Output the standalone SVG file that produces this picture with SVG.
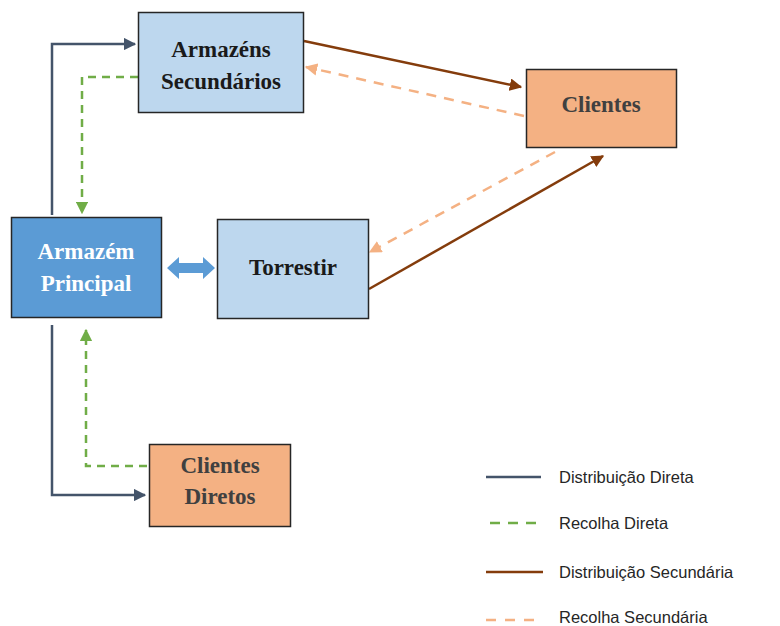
<svg xmlns="http://www.w3.org/2000/svg" width="780" height="626" viewBox="0 0 780 626">
<style>
.box{stroke:#262626;stroke-width:1.5}
.t{font-family:"Liberation Serif","DejaVu Serif",serif;font-weight:bold;font-size:23px;text-anchor:middle}
.lg{font-family:"Liberation Sans","DejaVu Sans",sans-serif;font-size:16.5px;fill:#262626}
.dd{fill:none;stroke:#44546A;stroke-width:2.5}
.rd{fill:none;stroke:#70AD47;stroke-width:2.5;stroke-dasharray:8,6}
.ds{fill:none;stroke:#843C0C;stroke-width:2.5}
.rs{fill:none;stroke:#F4B183;stroke-width:2.5;stroke-dasharray:10,8}
</style>
<defs>
<marker id="mDD" viewBox="0 0 10 10" refX="9" refY="5" markerWidth="5" markerHeight="5" orient="auto" markerUnits="strokeWidth"><path d="M0,0L10,5L0,10z" fill="#44546A"/></marker>
<marker id="mRD" viewBox="0 0 10 10" refX="9" refY="5" markerWidth="5" markerHeight="5" orient="auto" markerUnits="strokeWidth"><path d="M0,0L10,5L0,10z" fill="#70AD47"/></marker>
<marker id="mDS" viewBox="0 0 10 10" refX="9" refY="5" markerWidth="5" markerHeight="5" orient="auto" markerUnits="strokeWidth"><path d="M0,0L10,5L0,10z" fill="#843C0C"/></marker>
<marker id="mRS" viewBox="0 0 10 10" refX="9" refY="5" markerWidth="5" markerHeight="5" orient="auto" markerUnits="strokeWidth"><path d="M0,0L10,5L0,10z" fill="#F4B183"/></marker>
</defs>
<rect width="780" height="626" fill="#fff"/>
<g id="connectors">
<path class="dd" d="M52,215V44H135" marker-end="url(#mDD)"/>
<path class="rd" d="M138,77H82V213" marker-end="url(#mRD)"/>
<path class="ds" d="M304,41L521,87" marker-end="url(#mDS)"/>
<path class="rs" d="M524,116L306,67" marker-end="url(#mRS)"/>
<path class="rs" d="M555,152L370,252" marker-end="url(#mRS)"/>
<path class="ds" d="M369,289L603,156" marker-end="url(#mDS)"/>
<path class="dd" d="M52,325V495H145" marker-end="url(#mDD)"/>
<path class="rd" d="M147,466H86V330" marker-end="url(#mRD)"/>
<path d="M167,268L179,257V263H203V257L215,268L203,279V273H179V279Z" fill="#5B9BD5"/>
</g>
<g id="armazens-secundarios">
<rect class="box" x="138.5" y="12.5" width="165" height="100" fill="#BDD7EE"/>
<text class="t" x="221" y="57" fill="#1a1a1a">Armazéns</text>
<text class="t" x="221" y="89" fill="#1a1a1a">Secundários</text>
</g>
<g id="clientes">
<rect class="box" x="526.5" y="69.5" width="150" height="78" fill="#F4B183"/>
<text class="t" x="601" y="112" fill="#404040">Clientes</text>
</g>
<g id="armazem-principal">
<rect class="box" x="11.5" y="217.5" width="150" height="100" fill="#5B9BD5"/>
<text class="t" x="86" y="259" fill="#fff">Armazém</text>
<text class="t" x="86" y="291" fill="#fff">Principal</text>
</g>
<g id="torrestir">
<rect class="box" x="217.5" y="219.5" width="151" height="99" fill="#BDD7EE"/>
<text class="t" x="293" y="275" fill="#1a1a1a">Torrestir</text>
</g>
<g id="clientes-diretos">
<rect class="box" x="149.5" y="444.5" width="141" height="82" fill="#F4B183"/>
<text class="t" x="220" y="473" fill="#404040">Clientes</text>
<text class="t" x="220" y="504" fill="#404040">Diretos</text>
</g>
<g id="legend">
<line x1="486" y1="477" x2="541" y2="477" stroke="#44546A" stroke-width="2.5"/>
<line x1="490" y1="523" x2="541" y2="523" stroke="#70AD47" stroke-width="2.5" stroke-dasharray="10,8"/>
<line x1="486" y1="572" x2="543" y2="572" stroke="#843C0C" stroke-width="2.5"/>
<line x1="486" y1="620" x2="534" y2="620" stroke="#F4B183" stroke-width="2.5" stroke-dasharray="10,9"/>
<text class="lg" x="559" y="483">Distribuição Direta</text>
<text class="lg" x="559" y="529">Recolha Direta</text>
<text class="lg" x="559" y="578">Distribuição Secundária</text>
<text class="lg" x="559" y="623">Recolha Secundária</text>
</g>
</svg>
